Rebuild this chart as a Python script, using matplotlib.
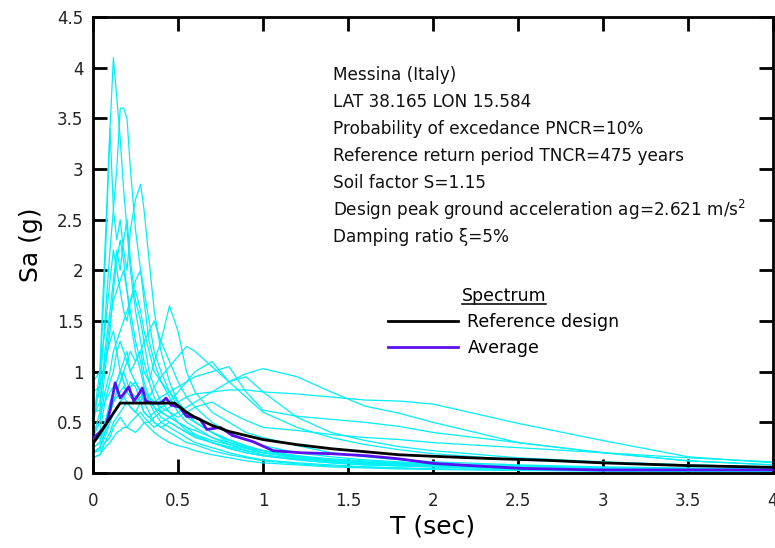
import matplotlib
matplotlib.use("Agg")
import matplotlib.pyplot as plt
from matplotlib.lines import Line2D

# periods (sec) shared by the single records
periods = [0, 0.04, 0.07, 0.1, 0.12, 0.14, 0.16, 0.18, 0.2, 0.22,
           0.25, 0.28, 0.3, 0.33, 0.36, 0.4, 0.45, 0.5, 0.55, 0.6,
           0.7, 0.8, 0.9, 1.0, 1.2, 1.4, 1.6, 1.8, 2.0, 2.5,
           3.0, 3.5, 4.0]

# spectral accelerations (g) of the single records
rec_01 = [0.45, 0.9, 2.0, 3.4, 4.1, 3.7, 3.3, 2.8, 2.4, 2.0, 1.6, 1.3, 1.1, 0.9, 0.75, 0.6, 0.55, 0.5, 0.42, 0.36, 0.3, 0.24, 0.2, 0.17, 0.13, 0.1, 0.08, 0.07, 0.06, 0.04, 0.03, 0.025, 0.02]
rec_02 = [0.6, 0.8, 1.5, 2.2, 2.6, 3.0, 3.6, 3.6, 3.5, 3.0, 2.4, 2.0, 1.7, 1.3, 1.1, 0.9, 0.75, 0.6, 0.5, 0.45, 0.35, 0.28, 0.22, 0.18, 0.14, 0.11, 0.09, 0.08, 0.07, 0.05, 0.04, 0.03, 0.025]
rec_03 = [0.5, 1.0, 2.2, 3.4, 2.6, 2.3, 2.5, 2.2, 2.0, 2.4, 2.7, 2.85, 2.6, 2.1, 1.6, 1.2, 0.9, 0.7, 0.6, 0.5, 0.4, 0.33, 0.27, 0.22, 0.16, 0.12, 0.1, 0.08, 0.07, 0.05, 0.04, 0.03, 0.025]
rec_04 = [0.35, 0.6, 1.2, 1.6, 1.9, 2.2, 2.0, 2.3, 2.5, 2.1, 1.7, 1.5, 1.3, 1.0, 0.85, 0.7, 0.6, 0.5, 0.45, 0.38, 0.3, 0.25, 0.2, 0.17, 0.13, 0.1, 0.08, 0.07, 0.06, 0.04, 0.03, 0.025, 0.02]
rec_05 = [0.9, 1.0, 1.4, 1.9, 2.2, 2.0, 1.8, 1.6, 1.5, 1.7, 1.9, 2.0, 1.8, 1.5, 1.2, 1.0, 0.8, 0.7, 0.6, 0.5, 0.4, 0.32, 0.26, 0.22, 0.17, 0.13, 0.1, 0.09, 0.08, 0.06, 0.04, 0.03, 0.03]
rec_06 = [0.3, 0.4, 0.7, 0.9, 1.0, 1.2, 1.3, 1.2, 1.1, 1.0, 1.1, 1.2, 1.0, 0.9, 1.1, 1.3, 1.65, 1.4, 1.0, 0.8, 0.6, 0.5, 0.4, 0.35, 0.27, 0.2, 0.16, 0.13, 0.11, 0.08, 0.06, 0.05, 0.04]
rec_07 = [0.25, 0.3, 0.5, 0.7, 0.8, 0.9, 1.0, 0.9, 0.8, 0.85, 0.9, 0.8, 0.7, 0.75, 0.85, 0.95, 1.05, 1.15, 1.25, 1.2, 1.05, 0.9, 0.75, 0.6, 0.45, 0.35, 0.28, 0.23, 0.19, 0.13, 0.1, 0.08, 0.06]
rec_08 = [0.2, 0.25, 0.4, 0.5, 0.6, 0.65, 0.7, 0.75, 0.7, 0.65, 0.6, 0.7, 0.8, 0.75, 0.7, 0.65, 0.7, 0.8, 0.9, 1.0, 1.1, 0.9, 0.95, 0.8, 0.55, 0.4, 0.32, 0.26, 0.22, 0.15, 0.11, 0.08, 0.06]
rec_09 = [0.15, 0.18, 0.25, 0.3, 0.35, 0.4, 0.42, 0.45, 0.45, 0.43, 0.4, 0.45, 0.5, 0.5, 0.45, 0.5, 0.55, 0.6, 0.65, 0.7, 0.8, 0.9, 0.98, 1.03, 0.95, 0.8, 0.66, 0.59, 0.5, 0.3, 0.2, 0.12, 0.08]
rec_10 = [0.2, 0.22, 0.3, 0.35, 0.45, 0.5, 0.55, 0.5, 0.45, 0.5, 0.55, 0.6, 0.55, 0.5, 0.55, 0.6, 0.65, 0.7, 0.75, 0.78, 0.8, 0.82, 0.82, 0.8, 0.78, 0.75, 0.72, 0.71, 0.68, 0.49, 0.32, 0.16, 0.1]
rec_11 = [0.3, 0.35, 0.5, 0.6, 0.7, 0.75, 0.8, 0.85, 0.8, 0.75, 0.7, 0.75, 0.8, 0.75, 0.7, 0.75, 0.8, 0.85, 0.9, 0.95, 1.0, 1.05, 0.8, 0.62, 0.56, 0.53, 0.5, 0.46, 0.4, 0.3, 0.2, 0.12, 0.08]
rec_12 = [0.25, 0.3, 0.45, 0.6, 0.7, 0.8, 0.9, 1.0, 0.9, 0.8, 0.75, 0.7, 0.6, 0.55, 0.6, 0.65, 0.6, 0.55, 0.6, 0.65, 0.7, 0.6, 0.52, 0.45, 0.42, 0.38, 0.35, 0.33, 0.3, 0.25, 0.2, 0.15, 0.11]
rec_13 = [0.55, 0.7, 1.1, 1.5, 1.7, 1.8, 1.9, 2.0, 1.8, 1.5, 1.2, 1.0, 0.85, 0.7, 0.6, 0.5, 0.45, 0.4, 0.35, 0.3, 0.25, 0.2, 0.16, 0.13, 0.1, 0.08, 0.06, 0.05, 0.04, 0.03, 0.025, 0.02, 0.015]
rec_14 = [0.4, 0.5, 0.8, 1.0, 1.2, 1.3, 1.4, 1.5, 1.6, 1.7, 1.8, 1.6, 1.4, 1.2, 1.0, 0.9, 0.8, 0.65, 0.55, 0.5, 0.4, 0.3, 0.25, 0.2, 0.15, 0.12, 0.1, 0.08, 0.07, 0.05, 0.04, 0.03, 0.02]
rec_15 = [0.2, 0.25, 0.4, 0.6, 0.7, 0.8, 0.9, 1.0, 1.1, 1.2, 1.1, 1.2, 1.3, 1.4, 1.5, 1.3, 1.1, 0.9, 0.75, 0.65, 0.5, 0.4, 0.33, 0.27, 0.2, 0.16, 0.13, 0.11, 0.09, 0.06, 0.05, 0.04, 0.03]
rec_16 = [0.2, 0.25, 0.35, 0.5, 0.6, 0.65, 0.7, 0.75, 0.8, 0.85, 0.9, 0.8, 0.7, 0.6, 0.5, 0.45, 0.4, 0.35, 0.3, 0.28, 0.22, 0.18, 0.15, 0.12, 0.09, 0.07, 0.06, 0.05, 0.04, 0.03, 0.02, 0.02, 0.015]
rec_17 = [0.15, 0.18, 0.3, 0.4, 0.5, 0.55, 0.6, 0.65, 0.7, 0.65, 0.6, 0.55, 0.5, 0.45, 0.4, 0.35, 0.3, 0.27, 0.25, 0.22, 0.18, 0.15, 0.12, 0.1, 0.08, 0.06, 0.05, 0.04, 0.035, 0.025, 0.02, 0.015, 0.01]
rec_18 = [0.8, 0.85, 1.1, 1.3, 1.4, 1.2, 1.0, 0.9, 0.8, 0.9, 0.85, 0.7, 0.6, 0.55, 0.5, 0.45, 0.5, 0.45, 0.4, 0.35, 0.3, 0.26, 0.22, 0.2, 0.16, 0.13, 0.11, 0.1, 0.09, 0.07, 0.05, 0.04, 0.03]
rec_19 = [0.35, 0.5, 1.0, 1.4, 1.8, 2.1, 2.3, 2.1, 1.8, 1.6, 1.3, 1.1, 0.9, 0.75, 0.65, 0.55, 0.5, 0.45, 0.4, 0.38, 0.32, 0.28, 0.24, 0.2, 0.15, 0.12, 0.1, 0.09, 0.08, 0.06, 0.05, 0.04, 0.03]
rec_20 = [0.6, 0.62, 0.7, 0.8, 0.85, 0.9, 1.0, 1.1, 1.2, 1.0, 0.9, 0.8, 0.75, 0.7, 0.65, 0.6, 0.55, 0.5, 0.45, 0.42, 0.35, 0.3, 0.25, 0.22, 0.17, 0.14, 0.12, 0.1, 0.09, 0.07, 0.05, 0.04, 0.035]

records = [rec_01, rec_02, rec_03, rec_04, rec_05, rec_06, rec_07, rec_08, rec_09, rec_10,
           rec_11, rec_12, rec_13, rec_14, rec_15, rec_16, rec_17, rec_18, rec_19, rec_20]

# reference design spectrum
design_T = [0, 0.16, 0.48, 0.55, 0.6, 0.7, 0.8, 0.9, 1.0, 1.2, 1.4, 1.6, 1.8, 2.0, 2.3, 2.67, 3.0, 3.5, 4.0]
design_Sa = [0.29, 0.69, 0.69, 0.60, 0.55, 0.47, 0.41, 0.37, 0.33, 0.28, 0.24, 0.21, 0.18, 0.165, 0.145, 0.125, 0.10, 0.073, 0.056]

# average spectrum
avg_T = [0, 0.05, 0.08, 0.1, 0.13, 0.16, 0.18, 0.21, 0.24, 0.27, 0.29, 0.31, 0.35, 0.4, 0.43, 0.46,
         0.51, 0.55, 0.6, 0.63, 0.67, 0.75, 0.82, 0.94, 1.06, 1.22, 1.41, 1.61, 1.8, 2.0, 2.25,
         2.53, 2.98, 3.5, 4.0]
avg_Sa = [0.34, 0.42, 0.49, 0.62, 0.89, 0.74, 0.78, 0.85, 0.71, 0.78, 0.84, 0.71, 0.69, 0.69, 0.74, 0.67,
          0.65, 0.56, 0.55, 0.53, 0.43, 0.45, 0.37, 0.31, 0.22, 0.2, 0.19, 0.17, 0.14, 0.095, 0.07,
          0.045, 0.03, 0.03, 0.03]

info_lines = ["Messina (Italy)",
              "LAT 38.165 LON 15.584",
              "Probability of excedance PNCR=10%",
              "Reference return period TNCR=475 years",
              "Soil factor S=1.15",
              "Design peak ground acceleration ag=2.621 m/s$^2$",
              "Damping ratio \u03be=5%"]

plt.rcParams['font.family'] = ['DejaVu Sans']
plt.rcParams['mathtext.default'] = 'regular'

fig = plt.figure(figsize=(7.75, 5.48), dpi=100)
ax = fig.add_axes([93 / 775, 1 - 473 / 548, 680 / 775, 456 / 548])

for rec in records:
    ax.plot(periods, rec, color='#00f0f8', lw=0.9, zorder=2)

ax.plot(design_T, design_Sa, color='black', lw=2.0, zorder=4, label='Reference design')
ax.plot(avg_T, avg_Sa, color='#5a10f0', lw=2.0, zorder=3, label='Average')

ax.set_xlim(0, 4)
ax.set_ylim(0, 4.5)
ax.set_xticks([0, 0.5, 1, 1.5, 2, 2.5, 3, 3.5, 4])
ax.set_xticklabels(['0', '0.5', '1', '1.5', '2', '2.5', '3', '3.5', '4'])
ax.set_yticks([0, 0.5, 1, 1.5, 2, 2.5, 3, 3.5, 4, 4.5])
ax.set_yticklabels(['0', '0.5', '1', '1.5', '2', '2.5', '3', '3.5', '4', '4.5'])

ax.tick_params(direction='in', length=10, width=2, top=True, right=True,
               labelsize=12, labelcolor='#222222')
ax.tick_params(axis='x', pad=14)
ax.tick_params(axis='y', pad=7)
for s in ax.spines.values():
    s.set_linewidth(2)

ax.set_xlabel('T (sec)', fontsize=18, labelpad=3)
ax.set_ylabel('Sa (g)', fontsize=18, labelpad=10)

# info block
y0 = (473 - 75) / 101.3
dy = 27 / 101.3
for i, line in enumerate(info_lines):
    ax.text(1.41, y0 - i * dy, line, fontsize=12.2, color='#111111', va='center', ha='left')

leg = ax.legend(loc='upper left', bbox_to_anchor=(0.434, 0.408), frameon=False,
                title='Spectrum', fontsize=12.5, title_fontsize=12.5,
                handlelength=4.0, handletextpad=0.57, labelspacing=0.45,
                borderpad=0, borderaxespad=0)

# underline the legend title
fig.canvas.draw()
bb = leg.get_title().get_window_extent()
W, H = fig.canvas.get_width_height()
fig.add_artist(Line2D([bb.x0 / W, bb.x1 / W], [(bb.y0 + 1) / H, (bb.y0 + 1) / H],
                      color='#111111', lw=1.2, transform=fig.transFigure))

fig.savefig('out.png', dpi=100)
